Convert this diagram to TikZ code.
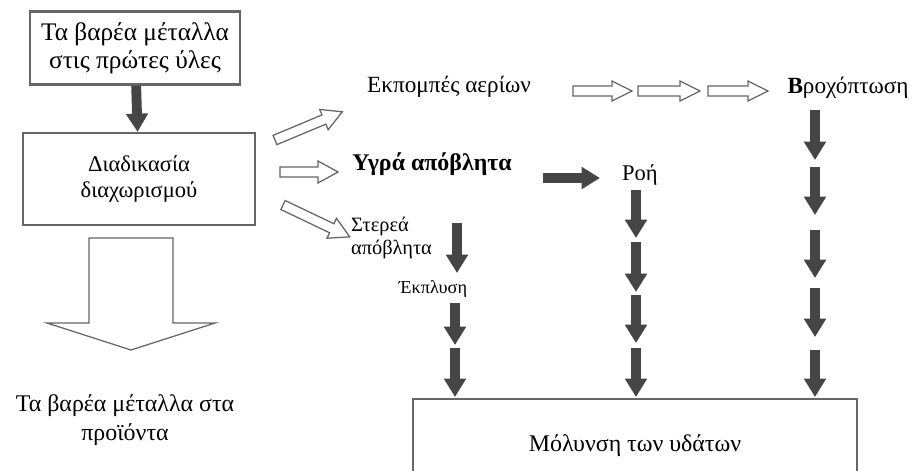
\documentclass[tikz,border=0pt]{standalone}
\usepackage{fontspec}
\setmainfont{Liberation Serif}
\usetikzlibrary{arrows.meta,positioning,calc}
\definecolor{arrgray}{HTML}{454545}
\definecolor{linegray}{HTML}{666666}
\tikzset{
  procbox/.style={rectangle, draw=linegray, line width=1.5pt, align=center,
                  inner sep=0pt, font=\fontsize{#1}{20}\selectfont},
  lbl/.style={align=center, inner sep=2pt, font=\fontsize{#1}{21}\selectfont},
  darr/.style={-{Triangle[width=15pt,length=13pt]}, line width=7pt, draw=arrgray},
  harr/.style={draw=linegray, line width=0.9pt, fill=white, line join=miter},
}
% hollow block arrow: tail, angle, length, shaft half, head half, head length
\newcommand{\hollowarrow}[6]{%
  \draw[harr, shift={#1}, rotate=#2]
    (0,-#4) -- ({#3-#6},-#4) -- ({#3-#6},-#5) -- (#3,0)
    -- ({#3-#6},#5) -- ({#3-#6},#4) -- (0,#4) -- cycle;}

\begin{document}
\begin{tikzpicture}[x=0.025cm, y=-0.025cm]
  \useasboundingbox (0,0) rectangle (917,470);
  \clip (0,0) rectangle (917,470);

  % boxes
  \node[procbox=18, minimum width=210*0.025cm, minimum height=73*0.025cm]
    (raw) at (135,48) {Τα βαρέα μέταλλα\\στις πρώτες ύλες};
  \node[procbox=16, font=\fontsize{16}{18}\selectfont,
        minimum width=232*0.025cm, minimum height=92*0.025cm]
    (sep) at (139,179) {Διαδικασία\\διαχωρισμού};
  \node[procbox=17, minimum width=444*0.025cm, minimum height=94*0.025cm, anchor=north]
    (water) at (635,398) {Μόλυνση των υδάτων};

  % labels
  \node[lbl=17] (prod) at (125,420) {Τα βαρέα μέταλλα στα\\προϊόντα};
  \node[lbl=16.5] (gas) at (449,87) {Εκπομπές αερίων};
  \node[lbl=17, font=\bfseries\fontsize{17}{20}\selectfont] (wet) at (432,164) {Υγρά απόβλητα};
  \node[lbl=14.5, align=left, font=\fontsize{14.5}{17}\selectfont, anchor=west]
    (solid) at (348,238) {Στερεά\\απόβλητα};
  \node[lbl=13] (leach) at (433,289) {Έκπλυση};
  \node[lbl=16] (flow) at (640,175) {Ροή};
  \node[lbl=16.5] (rain) at (848,88) {\textbf{Β}ροχόπτωση};

  % hollow arrows
  \hollowarrow{(131,238)}{-90}{112}{42}{84}{27}
  \hollowarrow{(275,140)}{22.7}{73}{5}{11}{20}
  \hollowarrow{(280,172)}{0}{58}{5}{11}{20}
  \hollowarrow{(283,205)}{-25.5}{74}{5}{11}{20}
  \hollowarrow{(573,91)}{0}{59}{5}{10}{20}
  \hollowarrow{(638,91)}{0}{62}{5}{10}{20}
  \hollowarrow{(708,91)}{0}{60}{5}{10}{20}

  % dark arrows
  \draw[darr] (raw) -- (sep);
  \draw[darr] (543,178) -- (600,178);
  \draw[darr] (457,223) -- (457,273);
  \foreach \ya/\yb in {303/345, 348/397}
    \draw[darr] (455,\ya) -- (455,\yb);
  \foreach \ya/\yb in {190/238, 242/292, 295/343, 348/397}
    \draw[darr] (636,\ya) -- (636,\yb);
  \foreach \ya/\yb in {110/160, 167/215, 230/278, 288/337, 350/397}
    \draw[darr] (815,\ya) -- (815,\yb);
\end{tikzpicture}
\end{document}
